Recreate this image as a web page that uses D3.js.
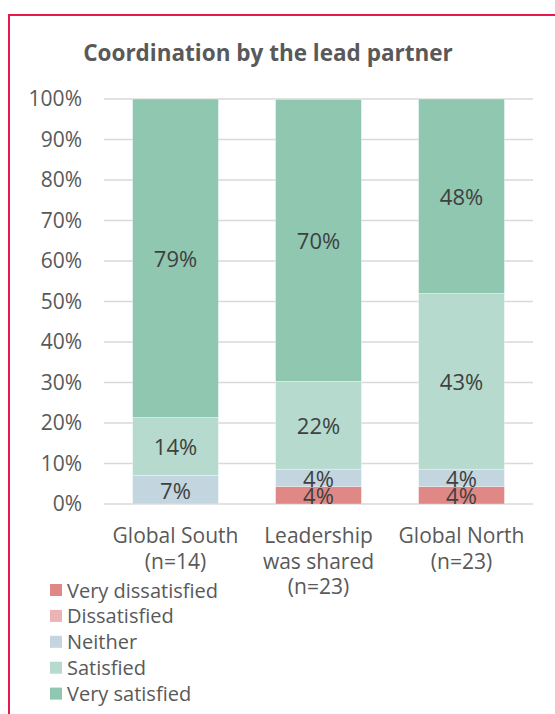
<!DOCTYPE html>
<html>
<head>
<meta charset="utf-8">
<script src="https://cdn.jsdelivr.net/npm/d3@7"></script>
<style>
html,body{margin:0;padding:0;background:#fff;}
svg{display:block;font-family:"Open Sans",sans-serif;}
</style>
</head>
<body>
<svg id="chart" width="555" height="714"></svg>
<script>
const title = "Coordination by the lead partner";
const categories = ["Global South", "Leadership was shared", "Global North"];
const categoryLines = [["Global South","(n=14)"],["Leadership","was shared","(n=23)"],["Global North","(n=23)"]];
const seriesNames = ["Very dissatisfied","Dissatisfied","Neither","Satisfied","Very satisfied"];
const seriesColors = ["#e08886","#ebb3b2","#c3d6df","#b6dbce","#8fc7b1"];
const verySatisfied = [78.6, 69.6, 48.0];
const satisfied = [14.3, 21.7, 43.4];
const neither = [7.1, 4.3, 4.3];
const dissatisfied = [0, 0, 0];
const veryDissatisfied = [0, 4.3, 4.3];
const yTicks = [0,10,20,30,40,50,60,70,80,90,100];

const seriesValues = [veryDissatisfied, dissatisfied, neither, satisfied, verySatisfied];
const rows = categories.map((c,i)=>{
  const r = {cat:c};
  seriesNames.forEach((s,j)=>{ r[s]=seriesValues[j][i]; });
  return r;
});

const svg = d3.select("#chart");
const x = d3.scaleBand().domain(categories).range([104,533]).paddingInner(0.4).paddingOuter(0.2);
const y = d3.scaleLinear().domain([0,100]).range([504,99]);

// frame
svg.append("path").attr("d","M9,720 L9,15 L560,15").attr("fill","none").attr("stroke","#e5194b").attr("stroke-width",2);

svg.append("text").attr("x",268).attr("y",52).attr("text-anchor","middle").attr("dominant-baseline","central")
  .attr("font-size",22.5).attr("font-weight",700).attr("fill","#595959").text(title);

// gridlines
svg.append("g").selectAll("line").data(yTicks).join("line")
  .attr("x1",104).attr("x2",533).attr("y1",d=>y(d)).attr("y2",d=>y(d))
  .attr("stroke","#d9d9d9").attr("stroke-width",1.5);

// y axis labels
const yAxis = d3.axisLeft(y).tickValues(yTicks).tickFormat(d=>d+"%").tickSize(0).tickPadding(0);
const ya = svg.append("g").attr("transform","translate(82,0)").call(yAxis);
ya.select(".domain").remove();
ya.selectAll("text").attr("font-size",21).attr("fill","#595959").attr("font-family","Open Sans");

// stacks
const stack = d3.stack().keys(seriesNames)(rows);
const g = svg.append("g");
stack.forEach((layer,j)=>{
  g.append("g").selectAll("rect").data(layer).join("rect")
    .attr("x",d=>x(d.data.cat)).attr("width",x.bandwidth())
    .attr("y",d=>y(d[1])).attr("height",d=>y(d[0])-y(d[1]))
    .attr("fill",seriesColors[j]).attr("stroke","#ffffff").attr("stroke-width",0.5)
    .attr("stroke-opacity",d=>d[1]-d[0]>0?0.6:0);
});
stack.forEach((layer,j)=>{
  g.append("g").selectAll("text").data(layer.filter(d=>d[1]-d[0]>0)).join("text")
    .attr("x",d=>x(d.data.cat)+x.bandwidth()/2)
    .attr("y",d=>y((d[0]+d[1])/2))
    .attr("text-anchor","middle").attr("dominant-baseline","central")
    .attr("font-size",22).attr("fill","#404040")
    .text(d=>Math.round(d[1]-d[0])+"%");
});

// category labels
categoryLines.forEach((lines,i)=>{
  const t = svg.append("text").attr("x",x(categories[i])+x.bandwidth()/2).attr("y",535)
    .attr("text-anchor","middle").attr("font-size",21).attr("fill","#595959").attr("dominant-baseline","central");
  lines.forEach((l,k)=>t.append("tspan").attr("x",x(categories[i])+x.bandwidth()/2).attr("dy",k?25.5:0).text(l));
});

// legend
const lg = svg.append("g").selectAll("g").data(seriesNames).join("g")
  .attr("transform",(d,i)=>`translate(50,${590+i*25.9})`);
lg.append("rect").attr("x",0).attr("y",-6).attr("width",12).attr("height",12).attr("fill",(d,i)=>seriesColors[i]);
lg.append("text").attr("x",17).attr("y",0).attr("dominant-baseline","central")
  .attr("font-size",20).attr("fill","#595959").text(d=>d);
</script>
</body>
</html>
